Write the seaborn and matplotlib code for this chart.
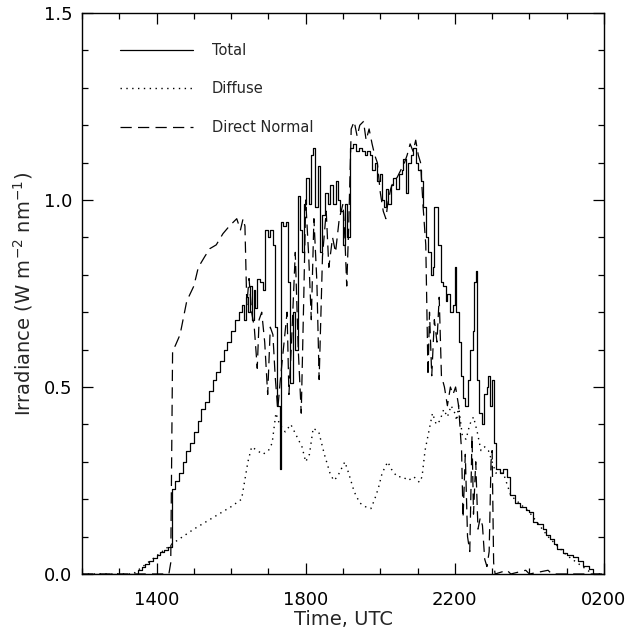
import pandas as pd
import matplotlib
matplotlib.use("Agg")
import matplotlib.pyplot as plt
import seaborn as sns
from matplotlib.ticker import MultipleLocator, FormatStrFormatter

# -----------------------------
# Data (time in decimal hours UTC, 24+ = next day)
# -----------------------------
time_total = [
    12.00, 13.37, 13.50, 13.60, 13.70, 13.80, 13.90, 14.00, 14.10, 14.20, 14.30,
    14.41, 14.50, 14.60, 14.70, 14.80, 14.90, 15.00, 15.10, 15.20, 15.30, 15.40,
    15.50, 15.60, 15.70, 15.80, 15.90, 16.00, 16.10, 16.20, 16.28, 16.35, 16.40,
    16.45, 16.50, 16.55, 16.60, 16.65, 16.70, 16.78, 16.85, 16.92, 16.98, 17.05,
    17.12, 17.18, 17.24, 17.30, 17.34, 17.40, 17.47, 17.52, 17.58, 17.65, 17.72,
    17.78, 17.84, 17.90, 17.96, 18.02, 18.08, 18.14, 18.20, 18.25, 18.32, 18.38,
    18.45, 18.52, 18.60, 18.66, 18.72, 18.80, 18.86, 18.92, 19.00, 19.06, 19.12,
    19.20, 19.28, 19.35, 19.42, 19.50, 19.58, 19.65, 19.72, 19.78, 19.85, 19.92,
    19.98, 20.05, 20.10, 20.15, 20.20, 20.28, 20.35, 20.42, 20.50, 20.58, 20.62,
    20.70, 20.75, 20.82, 20.88, 20.95, 21.02, 21.10, 21.15, 21.22, 21.28, 21.35,
    21.42, 21.45, 21.52, 21.56, 21.62, 21.68, 21.75, 21.80, 21.88, 21.95, 22.00,
    22.04, 22.10, 22.16, 22.22, 22.28, 22.34, 22.40, 22.48, 22.52, 22.56, 22.60,
    22.66, 22.72, 22.78, 22.85, 22.90, 22.95, 23.00, 23.05, 23.10, 23.20, 23.30,
    23.40, 23.47, 23.60, 23.74, 23.90, 24.00, 24.10, 24.20, 24.36, 24.45, 24.55,
    24.65, 24.73, 24.90, 25.00, 25.16, 25.30, 25.45, 25.60, 25.70, 26.00,
]
irr_total = [
    0.000, 0.000, 0.010, 0.018, 0.027, 0.035, 0.043, 0.050, 0.058, 0.065, 0.072,
    0.226, 0.250, 0.270, 0.300, 0.330, 0.350, 0.380, 0.410, 0.440, 0.460, 0.490,
    0.520, 0.540, 0.570, 0.600, 0.620, 0.650, 0.680, 0.700, 0.720, 0.680, 0.740,
    0.700, 0.770, 0.680, 0.760, 0.710, 0.790, 0.780, 0.760, 0.920, 0.900, 0.920,
    0.880, 0.660, 0.450, 0.280, 0.940, 0.930, 0.940, 0.780, 0.510, 0.700, 0.600,
    1.010, 0.920, 0.860, 0.990, 1.060, 0.990, 1.120, 1.140, 0.980, 1.090, 0.860,
    0.960, 1.020, 0.990, 1.040, 0.990, 1.050, 1.000, 0.970, 0.880, 0.990, 0.900,
    1.140, 1.150, 1.130, 1.140, 1.130, 1.120, 1.130, 1.120, 1.080, 1.100, 1.050,
    1.070, 1.000, 0.980, 1.030, 0.990, 1.040, 1.060, 1.030, 1.070, 1.080, 1.110,
    1.020, 1.100, 1.120, 1.140, 1.100, 1.080, 1.050, 0.980, 0.900, 0.860, 0.800,
    0.820, 0.980, 0.980, 0.880, 0.780, 0.770, 0.730, 0.750, 0.700, 0.720, 0.820,
    0.700, 0.620, 0.530, 0.470, 0.450, 0.520, 0.600, 0.650, 0.780, 0.810, 0.520,
    0.430, 0.400, 0.480, 0.500, 0.530, 0.450, 0.520, 0.350, 0.280, 0.270, 0.280,
    0.260, 0.210, 0.190, 0.180, 0.170, 0.165, 0.140, 0.135, 0.120, 0.105, 0.093,
    0.080, 0.066, 0.055, 0.050, 0.045, 0.035, 0.022, 0.013, 0.000, 0.000,
]

time_diffuse = [
    12.00, 13.37, 14.41, 15.00, 15.50, 16.00, 16.28, 16.45, 16.55, 16.70, 16.85,
    17.00, 17.10, 17.20, 17.30, 17.45, 17.60, 17.75, 17.90, 18.00, 18.10, 18.20,
    18.35, 18.50, 18.65, 18.75, 18.85, 18.95, 19.05, 19.15, 19.30, 19.45, 19.60,
    19.75, 19.85, 19.95, 20.05, 20.20, 20.30, 20.45, 20.60, 20.75, 20.90, 21.05,
    21.12, 21.20, 21.30, 21.40, 21.50, 21.60, 21.70, 21.80, 21.90, 22.00, 22.05,
    22.10, 22.20, 22.30, 22.40, 22.50, 22.60, 22.70, 22.80, 22.90, 23.00, 23.10,
    23.30, 23.50, 24.00, 24.50, 25.00, 25.70, 26.00,
]
irr_diffuse = [
    0.000, 0.000, 0.080, 0.120, 0.150, 0.180, 0.200, 0.300, 0.340, 0.330, 0.320,
    0.330, 0.350, 0.430, 0.400, 0.380, 0.400, 0.370, 0.340, 0.300, 0.320, 0.390,
    0.380, 0.320, 0.270, 0.250, 0.260, 0.280, 0.300, 0.270, 0.220, 0.190, 0.180,
    0.175, 0.200, 0.230, 0.270, 0.300, 0.280, 0.260, 0.260, 0.250, 0.260, 0.245,
    0.260, 0.330, 0.380, 0.430, 0.400, 0.410, 0.440, 0.420, 0.450, 0.430, 0.410,
    0.450, 0.370, 0.360, 0.400, 0.420, 0.380, 0.330, 0.340, 0.330, 0.300, 0.270,
    0.270, 0.210, 0.165, 0.100, 0.050, 0.000, 0.000,
]

time_direct = [
    12.00, 14.33, 14.38, 14.43, 14.50, 14.63, 14.81, 15.00, 15.12, 15.30, 15.43,
    15.60, 15.78, 15.95, 16.15, 16.25, 16.32, 16.37, 16.42, 16.48, 16.55, 16.62,
    16.70, 16.75, 16.82, 16.90, 16.98, 17.05, 17.12, 17.18, 17.25, 17.32, 17.40,
    17.50, 17.55, 17.62, 17.72, 17.80, 17.88, 17.95, 18.00, 18.08, 18.15, 18.22,
    18.30, 18.36, 18.45, 18.55, 18.62, 18.72, 18.80, 18.90, 19.00, 19.05, 19.10,
    19.15, 19.22, 19.30, 19.38, 19.45, 19.55, 19.62, 19.70, 19.78, 19.85, 19.92,
    20.00, 20.08, 20.15, 20.20, 20.28, 20.35, 20.45, 20.55, 20.65, 20.72, 20.80,
    20.88, 20.95, 21.02, 21.08, 21.15, 21.22, 21.28, 21.32, 21.38, 21.45, 21.52,
    21.58, 21.64, 21.72, 21.80, 21.88, 21.95, 22.02, 22.10, 22.18, 22.22, 22.28,
    22.34, 22.40, 22.46, 22.50, 22.56, 22.62, 22.68, 22.74, 22.80, 22.86, 22.92,
    22.97, 23.00, 23.04, 23.08, 23.40, 23.50, 23.90, 24.00, 24.50, 24.60, 26.00,
]
irr_direct = [
    0.000, 0.000, 0.030, 0.600, 0.610, 0.640, 0.730, 0.770, 0.820, 0.850, 0.870,
    0.880, 0.910, 0.930, 0.950, 0.920, 0.950, 0.930, 0.720, 0.790, 0.700, 0.660,
    0.550, 0.680, 0.700, 0.620, 0.480, 0.660, 0.640, 0.530, 0.440, 0.520, 0.600,
    0.700, 0.480, 0.620, 0.860, 0.600, 0.430, 0.750, 1.000, 0.850, 0.680, 0.950,
    0.780, 0.520, 0.850, 0.970, 0.820, 0.900, 0.860, 0.950, 0.990, 0.900, 0.770,
    0.920, 1.190, 1.210, 1.170, 1.200, 1.210, 1.160, 1.190, 1.150, 1.120, 1.100,
    1.020, 0.970, 0.950, 0.990, 1.030, 1.050, 1.060, 1.080, 1.100, 1.120, 1.150,
    1.130, 1.160, 1.120, 1.100, 0.980, 0.880, 0.530, 0.700, 0.530, 0.680, 0.620,
    0.740, 0.530, 0.500, 0.450, 0.500, 0.480, 0.500, 0.450, 0.330, 0.150, 0.320,
    0.100, 0.060, 0.370, 0.160, 0.300, 0.120, 0.150, 0.130, 0.040, 0.020, 0.060,
    0.300, 0.330, 0.030, 0.000, 0.010, 0.000, 0.010, 0.000, 0.010, 0.000, 0.000,
]

xtick_pos = [14, 18, 22, 26]
xtick_labels = ["1400", "1800", "2200", "0200"]

# -----------------------------
# Style
# -----------------------------
sns.set_style("ticks")
plt.rcParams["font.family"] = ["DejaVu Sans"]
plt.rcParams["mathtext.default"] = "regular"

fig = plt.figure(figsize=(6.38, 6.29), dpi=100)
ax = fig.add_axes([82 / 638, 1 - 574 / 629, 522 / 638, 561 / 629])

df_total = pd.DataFrame({"time": time_total, "irr": irr_total})
df_diffuse = pd.DataFrame({"time": time_diffuse, "irr": irr_diffuse})
df_direct = pd.DataFrame({"time": time_direct, "irr": irr_direct})

sns.lineplot(data=df_total, x="time", y="irr", ax=ax, color="black", lw=0.9,
             drawstyle="steps-post", sort=False, estimator=None, label="Total")
sns.lineplot(data=df_diffuse, x="time", y="irr", ax=ax, color="black", lw=1.0,
             linestyle=(0, (1, 3.2)), sort=False, estimator=None, label="Diffuse")
sns.lineplot(data=df_direct, x="time", y="irr", ax=ax, color="black", lw=0.9,
             linestyle=(0, (9, 5)), sort=False, estimator=None, label="Direct Normal")

ax.set_xlim(12, 26)
ax.set_ylim(0, 1.5)
ax.set_xticks(xtick_pos, xtick_labels)
ax.xaxis.set_minor_locator(MultipleLocator(1))
ax.yaxis.set_major_locator(MultipleLocator(0.5))
ax.yaxis.set_minor_locator(MultipleLocator(0.1))
ax.yaxis.set_major_formatter(FormatStrFormatter("%.1f"))

ax.tick_params(which="both", direction="in", top=True, right=True,
               width=0.9, labelsize=13, colors="black")
ax.tick_params(axis="x", which="both", pad=12)
ax.tick_params(axis="y", which="both", pad=7)
ax.tick_params(which="major", length=8)
ax.tick_params(which="minor", length=4)
for sp in ax.spines.values():
    sp.set_linewidth(1.0)
    sp.set_color("black")

ax.set_xlabel("Time, UTC", fontsize=14, labelpad=1)
ax.set_ylabel("Irradiance (W m$^{-2}$ nm$^{-1}$)", fontsize=14, labelpad=6)

ax.legend(loc="upper left", bbox_to_anchor=(38 / 522, 1 - 30 / 561),
          frameon=False, fontsize=10.5, handlelength=5.0, handletextpad=1.3,
          labelspacing=1.6, borderpad=0, borderaxespad=0)

fig.savefig("out.png", dpi=100)
